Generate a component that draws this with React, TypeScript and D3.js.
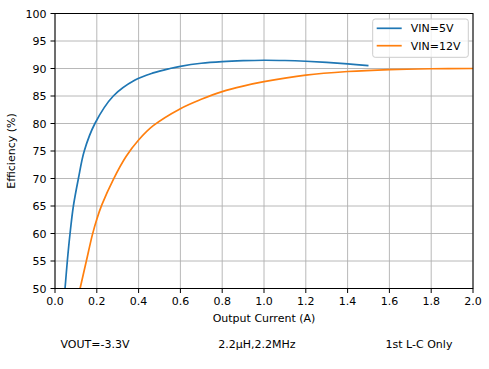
import React from "react";
import * as d3 from "d3";

const xTicks = [0, 0.2, 0.4, 0.6, 0.8, 1.0, 1.2, 1.4, 1.6, 1.8, 2.0];
const yTicks = [50, 55, 60, 65, 70, 75, 80, 85, 90, 95, 100];

const seriesNames = ["VIN=5V", "VIN=12V"];
const seriesColors = ["#1f77b4", "#ff7f0e"];

const vin5X = [0.048, 0.059, 0.072, 0.088, 0.112, 0.14, 0.191, 0.279, 0.383, 0.47, 0.55, 0.6, 0.7, 0.8, 0.9, 1.0, 1.1, 1.2, 1.3, 1.4, 1.5];
const vin5Y = [50, 55, 60, 65, 70, 75, 80, 85, 87.9, 89.2, 90.0, 90.4, 90.95, 91.25, 91.42, 91.5, 91.45, 91.32, 91.12, 90.85, 90.52];

const vin12X = [0.12, 0.15, 0.179, 0.2, 0.224, 0.28, 0.34, 0.4, 0.47, 0.6, 0.7, 0.8, 0.9, 1.0, 1.2, 1.4, 1.6, 1.8, 2.0];
const vin12Y = [50, 55, 59.8, 62.6, 65.2, 69.9, 74.0, 77.0, 79.6, 82.7, 84.4, 85.8, 86.8, 87.6, 88.8, 89.45, 89.8, 89.95, 90.0];

const footnotes = ["VOUT=-3.3V", "2.2\u00b5H,2.2MHz", "1st L-C Only"];

const W = 489, H = 369;
const M = { left: 55, right: 473, top: 13.5, bottom: 288.5 };
const FONT = "'DejaVu Sans', sans-serif";

export default function App() {
  const x = d3.scaleLinear().domain([0, 2]).range([M.left, M.right]);
  const y = d3.scaleLinear().domain([50, 100]).range([M.bottom, M.top]);
  const line = d3
    .line<[number, number]>()
    .x((d) => x(d[0]))
    .y((d) => y(d[1]))
    .curve(d3.curveCatmullRom.alpha(0.5));
  const data: [number, number][][] = [
    vin5X.map((v, i) => [v, vin5Y[i]]),
    vin12X.map((v, i) => [v, vin12Y[i]]),
  ];
  const footX = [95, 257, 419];

  return (
    <svg
      width={W}
      height={H}
      style={{ position: "absolute", left: 0, top: 0, background: "#fff" }}
      fontFamily={FONT}
    >
      <rect x={0} y={0} width={W} height={H} fill="#fff" />
      <defs>
        <clipPath id="plotclip">
          <rect x={M.left} y={M.top} width={M.right - M.left} height={M.bottom - M.top} />
        </clipPath>
      </defs>
      {/* grid */}
      {xTicks.map((t) => (
        <line key={"gx" + t} x1={x(t)} x2={x(t)} y1={M.top} y2={M.bottom} stroke="#b0b0b0" strokeWidth={0.9} />
      ))}
      {yTicks.map((t) => (
        <line key={"gy" + t} x1={M.left} x2={M.right} y1={y(t)} y2={y(t)} stroke="#b0b0b0" strokeWidth={0.9} />
      ))}
      {/* lines */}
      <g clipPath="url(#plotclip)">
        {data.map((d, i) => (
          <path key={i} d={line(d) || ""} fill="none" stroke={seriesColors[i]} strokeWidth={1.7} />
        ))}
      </g>
      {/* spines */}
      <rect x={M.left} y={M.top} width={M.right - M.left} height={M.bottom - M.top} fill="none" stroke="#000" strokeWidth={1} />
      {/* x ticks */}
      {xTicks.map((t) => (
        <g key={"tx" + t}>
          <line x1={x(t)} x2={x(t)} y1={M.bottom} y2={M.bottom + 4.5} stroke="#000" strokeWidth={1} />
          <text x={x(t)} y={305} fontSize={11} textAnchor="middle" fill="#000">
            {t.toFixed(1)}
          </text>
        </g>
      ))}
      {/* y ticks */}
      {yTicks.map((t) => (
        <g key={"ty" + t}>
          <line x1={M.left - 4.5} x2={M.left} y1={y(t)} y2={y(t)} stroke="#000" strokeWidth={1} />
          <text x={46.5} y={y(t) + 4} fontSize={11} textAnchor="end" fill="#000">
            {t}
          </text>
        </g>
      ))}
      {/* axis labels */}
      <text x={(M.left + M.right) / 2} y={321.5} fontSize={11} textAnchor="middle" fill="#000">
        Output Current (A)
      </text>
      <text
        transform={`translate(14.5,${(M.top + M.bottom) / 2}) rotate(-90)`}
        fontSize={11}
        textAnchor="middle"
        fill="#000"
      >
        Efficiency (%)
      </text>
      {/* legend */}
      <rect x={372.7} y={19} width={95.6} height={38.3} rx={2.5} fill="#fff" fillOpacity={0.8} stroke="#cccccc" strokeWidth={1} />
      {seriesNames.map((n, i) => (
        <g key={n}>
          <line x1={376.7} x2={401.7} y1={28.3 + i * 17.4} y2={28.3 + i * 17.4} stroke={seriesColors[i]} strokeWidth={1.7} />
          <text x={410.7} y={32.3 + i * 17.4} fontSize={11} fill="#000">
            {n}
          </text>
        </g>
      ))}
      {/* footnotes */}
      {footnotes.map((f, i) => (
        <text key={f} x={footX[i]} y={348.3} fontSize={11} textAnchor="middle" fill="#000">
          {f}
        </text>
      ))}
    </svg>
  );
}
